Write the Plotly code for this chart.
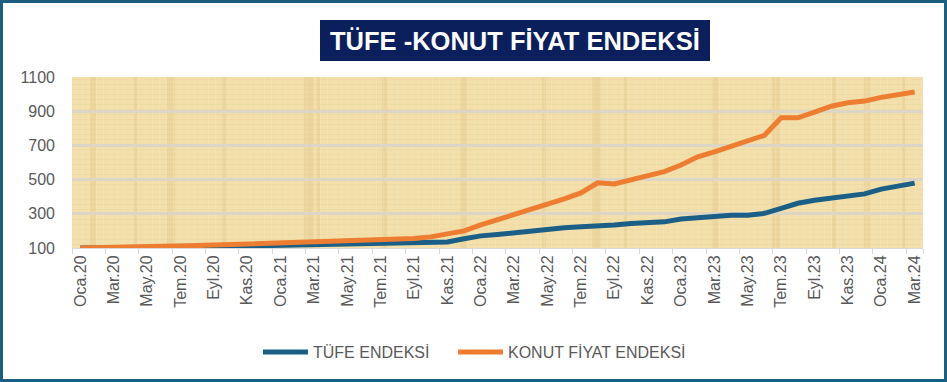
import base64
import plotly.graph_objects as go

months = ["Oca", "Şub", "Mar", "Nis", "May", "Haz", "Tem", "Ağu", "Eyl", "Eki", "Kas", "Ara"]
categories = [f"{m}.{y}" for y in ["20", "21", "22", "23"] for m in months] + ["Oca.24", "Şub.24", "Mar.24"]

tufe = [100.0, 100.4, 100.9, 101.8, 103.2, 104.3, 104.9, 105.8, 106.9, 109.2, 111.7, 113.1,
        115.0, 116.0, 117.3, 119.2, 120.3, 122.6, 124.8, 126.2, 127.8, 130.9, 135.5, 153.9,
        171.0, 179.2, 189.0, 202.7, 208.7, 219.0, 224.2, 227.5, 234.5, 242.8, 249.8, 252.8,
        269.6, 278.0, 284.4, 291.2, 291.3, 302.7, 331.5, 361.6, 378.8, 391.8, 404.6, 416.5,
        444.4, 464.5, 479.2]

konut = [100, 101, 103, 105, 107, 109, 112, 114, 117, 120, 123, 126,
         129, 132, 135, 138, 141, 144, 147, 150, 155, 165, 182, 200,
         235, 266, 291, 321, 358, 387, 422, 481, 475, 498, 521, 547,
         585, 633, 662, 694, 723, 759, 861, 861, 894, 929, 949, 959,
         981, 999, 1012]

tick_labels = categories[::2]
y_ticks = [100, 300, 500, 700, 900, 1100]

W, H = 947, 382
ML, MR, MT, MB = 72, 24, 77, 134
PW = W - ML - MR
PH = H - MT - MB

def px(x):
    return (x - ML) / PW

def py(y):
    return (H - MB - y) / PH

# papyrus-like decorative texture (SVG) for the plot background
band_x = [18, 62, 95, 150, 232, 245, 310, 388, 470, 520, 552, 640, 700, 760, 792, 830]
band_w = [6, 3, 8, 4, 10, 3, 5, 7, 4, 9, 3, 6, 8, 4, 6, 3]
parts = [f'<svg xmlns="http://www.w3.org/2000/svg" width="{PW}" height="{PH}" viewBox="0 0 {PW} {PH}">',
         f'<rect width="{PW}" height="{PH}" fill="#F2DFAA"/>']
for bx, bw in zip(band_x, band_w):
    parts.append(f'<rect x="{bx}" y="0" width="{bw}" height="{PH}" fill="#D4B878" opacity="0.22"/>')
for yy in range(2, PH, 5):
    parts.append(f'<rect x="0" y="{yy}" width="{PW}" height="1" fill="#C9AE72" opacity="0.10"/>')
for xx in range(3, PW, 7):
    parts.append(f'<rect x="{xx}" y="0" width="1" height="{PH}" fill="#FFF6D8" opacity="0.18"/>')
parts.append('</svg>')
svg = "".join(parts)
texture = "data:image/svg+xml;base64," + base64.b64encode(svg.encode()).decode()

fig = go.Figure()
fig.add_trace(go.Scatter(x=categories, y=tufe, mode="lines", name="TÜFE ENDEKSİ",
                         line=dict(color="#1B5F86", width=5), legend="legend"))
fig.add_trace(go.Scatter(x=categories, y=konut, mode="lines", name="KONUT FİYAT ENDEKSİ",
                         line=dict(color="#ED7D31", width=5), legend="legend2"))

fig.add_layout_image(source=texture, xref="paper", yref="paper", x=0, y=1, sizex=1, sizey=1,
                     xanchor="left", yanchor="top", sizing="stretch", layer="below")

# title box
fig.add_shape(type="rect", xref="paper", yref="paper",
              x0=px(320), x1=px(710), y0=py(61), y1=py(20),
              fillcolor="#0B1F5C", line=dict(width=0), layer="above")
fig.add_annotation(xref="paper", yref="paper", x=px(515), y=py(41), xanchor="center", yanchor="middle",
                   text="<b>TÜFE -KONUT FİYAT ENDEKSİ</b>", showarrow=False,
                   font=dict(family="Liberation Sans, Arial, sans-serif", size=25.5, color="white"))

# outer border
fig.add_shape(type="rect", xref="paper", yref="paper",
              x0=px(1.5), x1=px(W - 1.5), y0=py(H - 1.5), y1=py(1.5),
              line=dict(color="#1B5E80", width=3), fillcolor="rgba(0,0,0,0)", layer="above")

legend_style = dict(orientation="h", yanchor="middle", y=py(352), xanchor="left",
                    font=dict(size=16, color="#595959"), itemwidth=45, bgcolor="rgba(0,0,0,0)")

fig.update_layout(
    width=W, height=H,
    margin=dict(l=ML, r=MR, t=MT, b=MB),
    paper_bgcolor="white",
    plot_bgcolor="#F0DCA6",
    font=dict(family="Liberation Sans, Arial, sans-serif", color="#595959", size=16),
    showlegend=True,
    legend=dict(x=px(258), **legend_style),
    legend2=dict(x=px(453), **legend_style),
    xaxis=dict(type="category", tickmode="array", tickvals=tick_labels, ticktext=tick_labels,
               tickangle=-90, tickson="boundaries", ticks="outside", ticklen=5, tickcolor="#D9D9D9",
               showgrid=False, showline=True, linecolor="#D9D9D9", linewidth=1,
               tickfont=dict(size=16, color="#595959"), range=[-0.5, 50.5], zeroline=False),
    yaxis=dict(range=[100, 1100], tickvals=y_ticks, showgrid=True, gridcolor="#DDD6C6", gridwidth=3,
               ticks="", ticklabelstandoff=16, zeroline=False, showline=False,
               tickfont=dict(size=16, color="#595959")),
)

fig.write_html("out.html", config={"displayModeBar": False},
               post_script="document.body.style.margin='0';")
